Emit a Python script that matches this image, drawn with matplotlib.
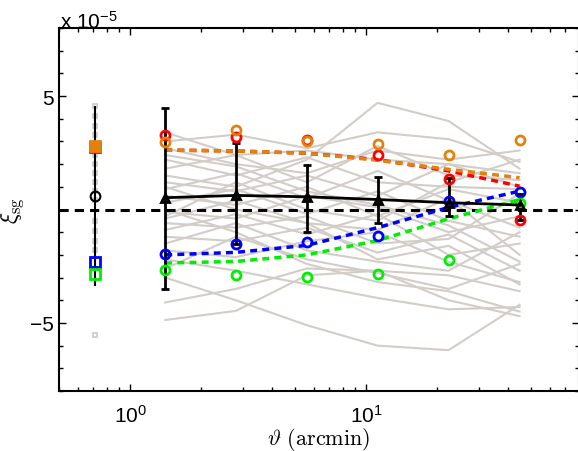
import matplotlib
matplotlib.use("Agg")
import matplotlib.pyplot as plt
from matplotlib.ticker import MultipleLocator, NullFormatter, LogLocator

plt.rcParams['font.family'] = ['Liberation Sans', 'DejaVu Sans']
plt.rcParams['mathtext.fontset'] = 'custom'
plt.rcParams['mathtext.rm'] = 'Liberation Sans'
plt.rcParams['mathtext.it'] = 'Liberation Sans:italic'

# angular bins (arcmin), values in units of 1e-5
theta = [1.41, 2.81, 5.62, 11.2, 22.4, 44.8]
theta_left = 0.71

mean_sg = [0.52, 0.62, 0.56, 0.44, 0.30, 0.20]
err_lo = [4.02, 2.12, 1.53, 1.03, 0.57, 0.65]
err_hi = [3.95, 2.30, 1.40, 1.00, 1.07, 0.50]

red_pts = [3.27, 3.20, 3.05, 2.39, 1.36, -0.47]
orange_pts = [2.98, 3.50, 3.02, 2.90, 2.39, 3.05]
blue_pts = [-1.95, -1.53, -1.45, -1.18, 0.37, 0.77]
green_pts = [-2.68, -2.90, -2.98, -2.83, -2.23, 0.30]

red_model = [2.62, 2.58, 2.48, 2.20, 1.70, 1.03]
orange_model = [2.62, 2.58, 2.48, 2.17, 1.77, 1.40]
blue_model = [-2.00, -1.89, -1.58, -0.80, 0.09, 0.81]
green_model = [-2.36, -2.29, -2.00, -1.37, -0.41, 0.44]

# individual realisations (grey)
gray_lines = [
    [3.4, 2.4, 2.6, 2.2, 2.0, 1.6],
    [3.0, 3.3, 2.7, 3.4, 3.1, 2.1],
    [1.5, 1.0, 2.2, 4.7, 3.9, 1.8],
    [2.7, 2.0, 1.6, 2.6, 2.2, 2.6],
    [2.2, 1.5, 2.3, 1.2, 1.0, 0.9],
    [1.8, 2.4, 1.2, 2.8, 1.5, 1.3],
    [1.2, 0.8, 1.5, 0.6, 2.0, 1.0],
    [0.9, 1.6, 0.5, 1.7, 0.4, -0.8],
    [0.6, 0.2, 1.0, -0.3, 0.9, 0.3],
    [0.3, 0.9, -0.2, 0.8, -0.5, -1.2],
    [-0.1, -0.4, 0.6, 0.1, -1.0, -0.3],
    [-0.4, 0.4, -0.6, -0.9, 0.5, -2.0],
    [-0.6, -0.8, -0.3, -1.5, -1.3, 0.7],
    [-0.9, -0.2, -1.1, -0.2, -2.0, -1.5],
    [-1.2, -1.4, -0.8, -1.9, -1.1, -2.7],
    [-1.5, -0.6, -1.8, -2.3, -2.7, -1.0],
    [-1.8, -2.1, -1.4, -1.0, -2.3, -3.2],
    [-2.6, -1.2, -2.2, -2.8, -3.5, -2.4],
    [-3.0, -4.0, -5.1, -6.0, -6.2, -4.2],
    [-4.1, -3.5, -2.6, -2.7, -2.9, -3.6],
    [-4.87, -4.47, -2.9, -2.7, -4.0, -4.7],
    [-2.2, -2.7, -3.3, -3.9, -4.4, -4.3],
    [0.0, -1.0, -2.4, -3.2, -3.6, -4.5],
    [1.0, 0.0, -0.6, -2.2, -1.6, -3.3],
    [2.4, 1.9, 0.8, 0.2, -0.7, -2.3],
    [-0.3, 1.2, 0.0, -0.5, 1.2, 2.2],
]

# left column (small scales)
gray_left = [4.57, 4.1, 3.7, 3.3, 2.4, 2.0, 1.6, 1.2, 0.8, 0.4, -0.5, -0.95, -1.4, -1.8, -5.55]
left_mean, left_err = 0.6, 3.98
left_red, left_orange, left_blue, left_green = 2.75, 2.79, -2.31, -2.86

gray = '#d2cdc7'
orange = '#e2820c'
green = '#00ee00'

fig = plt.figure(figsize=(5.78, 4.52), dpi=100)
ax = fig.add_axes([59/578, 60/452, 520/578, 363/452])

for g in gray_lines:
    ax.plot(theta, g, color=gray, lw=1.5)

ax.axhline(0, color='k', ls=(0, (3, 2)), lw=2.2)

# left column
ax.plot([theta_left]*len(gray_left), gray_left, 's', ms=3.5, mfc='none', mec=gray, mew=1.3)
ax.errorbar(theta_left, left_mean, yerr=left_err, fmt='none', ecolor='k', elinewidth=1.5, capsize=0)
ax.plot(theta_left, left_mean, 'o', ms=7, mfc='none', mec='k', mew=1.5)
ax.plot(theta_left, left_red, 's', ms=6.5, mfc='none', mec='r', mew=2)
ax.plot(theta_left, left_orange, 's', ms=6.5, mfc=orange, mec=orange, mew=2)
ax.plot(theta_left, left_blue, 's', ms=6.5, mfc='none', mec='b', mew=2)
ax.plot(theta_left, left_green, 's', ms=6.5, mfc='none', mec=green, mew=2)

# model curves
ax.plot(theta, red_model, color='r', ls=(0, (2, 1.5)), lw=2.5)
ax.plot(theta, orange_model, color=orange, ls=(0, (2, 1.5)), lw=2.5)
ax.plot(theta, blue_model, color='b', ls=(0, (2, 1.5)), lw=2.5)
ax.plot(theta, green_model, color=green, ls=(0, (2, 1.5)), lw=2.5)

# mean with errors
ax.errorbar(theta, mean_sg, yerr=[err_lo, err_hi], color='k', lw=2, elinewidth=2,
            capsize=3, capthick=2, marker='^', ms=6, mfc='none', mec='k', mew=2)

ax.plot(theta, red_pts, 'o', ms=6.5, mfc='none', mec='r', mew=2)
ax.plot(theta, orange_pts, 'o', ms=6.5, mfc='none', mec=orange, mew=2)
ax.plot(theta, blue_pts, 'o', ms=6.5, mfc='none', mec='b', mew=2)
ax.plot(theta, green_pts, 'o', ms=6.5, mfc='none', mec=green, mew=2)

ax.set_xscale('log')
ax.set_xlim(0.5, 80)
ax.set_ylim(-8, 8)
ax.set_xticks([1, 10])
ax.set_xticklabels([r'$10^0$', r'$10^1$'])
ax.xaxis.set_minor_locator(LogLocator(base=10, subs=range(2, 10)))
ax.xaxis.set_minor_formatter(NullFormatter())
ax.set_yticks([-5, 5])
ax.set_yticklabels(['\u22125', '5'])
ax.yaxis.set_minor_locator(MultipleLocator(1))
ax.tick_params(which='both', direction='in', top=True, right=True, labelsize=15, width=1)
ax.tick_params(axis='x', which='major', pad=9)
ax.tick_params(which='major', length=5)
ax.tick_params(which='minor', length=3)
for s in ax.spines.values():
    s.set_linewidth(1.5)

ax.set_xlabel(r'$\vartheta\ \mathrm{(arcmin)}$', fontsize=16, math_fontfamily='cm', labelpad=0)
ax.set_ylabel(r'$\xi_{\rm sg}$', fontsize=17, math_fontfamily='cm')
ax.yaxis.set_label_coords(-0.064, 0.5)
fig.text(60/578, 1 - 22/452, r'x 10$^{-5}$', fontsize=15, va='center', ha='left')

fig.savefig('out.png', dpi=100)
